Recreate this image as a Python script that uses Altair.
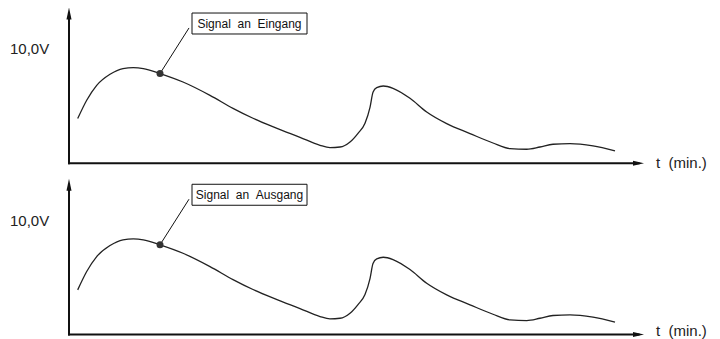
import altair as alt
import pandas as pd

# Signal curve (time in minutes, voltage in volts)
t_min = [0.87, 1.77, 2.77, 4.1, 5.4, 6.43, 7.43, 9.1, 11.4, 14.1, 16.4, 18.4,
         20.8, 23.1, 25.1, 26.1, 27.1, 28.1, 28.9, 29.6, 30.1, 30.4, 30.77,
         31.43, 32.4, 34.1, 35.77, 37.77, 40.1, 42.4, 44.1, 45.77, 47.1, 48.4,
         50.1, 52.4, 54.6]
volts = [3.92, 5.53, 6.84, 7.81, 8.31, 8.39, 8.31, 7.87, 7.13, 5.96, 4.82, 3.95,
         3.07, 2.28, 1.58, 1.38, 1.43, 1.87, 2.63, 3.51, 4.91, 6.23, 6.64,
         6.78, 6.58, 5.70, 4.50, 3.48, 2.61, 1.78, 1.29, 1.23, 1.43, 1.67,
         1.73, 1.52, 1.08]
marker_index = 7

NB = "\u00a0"
panel_labels = [f"Signal{NB}{NB}an{NB}{NB}Eingang", f"Signal{NB}{NB}an{NB}{NB}Ausgang"]
y_label = "10,0V"
y_label_value = 10.0
x_label = f"t{NB}{NB}(min.)"

# axis extents (data units)
y_axis_top = 13.14
x_axis_end = 56.95
# annotation box (data units)
box_t = (12.3, 23.8)
box_v = (11.34, 13.18)
leader_end = (12.0, 11.87)

x_domain = [-6.1, 64.3]
y_domains = [[-15.41, 13.62], [-0.39, 28.64]]
x_label_v = [0.0, 0.3]

FONT = "Liberation Sans"
INK = "#111111"

curve = pd.DataFrame({"t": t_min, "v": volts})
marker = curve.iloc[[marker_index]].reset_index(drop=True)
xsc = alt.Scale(domain=x_domain, nice=False, zero=False)


def panel(i):
    ysc = alt.Scale(domain=y_domains[i], nice=False, zero=False)

    def X(f):
        return alt.X(f, type="quantitative", scale=xsc, axis=None)

    def Y(f):
        return alt.Y(f, type="quantitative", scale=ysc, axis=None)

    axes = pd.DataFrame({"t0": [0.0, 0.0], "v0": [0.0, 0.0],
                         "t1": [0.0, x_axis_end], "v1": [y_axis_top, 0.0]})
    axis_lines = alt.Chart(axes).mark_rule(strokeWidth=2, color=INK, strokeCap="square").encode(
        x=X("t0"), y=Y("v0"), x2="t1", y2="v1")
    up_arrow = alt.Chart(pd.DataFrame({"t": [0.0], "v": [y_axis_top]})).mark_point(
        shape="M0,-1L0.42,1L-0.42,1Z", size=144, filled=True, color=INK, opacity=1
    ).encode(x=X("t"), y=Y("v"))
    right_arrow = alt.Chart(pd.DataFrame({"t": [x_axis_end], "v": [0.0]})).mark_point(
        shape="M1,0L-1,-0.45L-1,0.45Z", size=121, filled=True, color=INK, opacity=1
    ).encode(x=X("t"), y=Y("v"))
    line = alt.Chart(curve).mark_line(interpolate="monotone", color="#222222", strokeWidth=1.3).encode(
        x=X("t"), y=Y("v"))
    leader_df = marker.assign(t1=leader_end[0], v1=leader_end[1])
    leader = alt.Chart(leader_df).mark_rule(color=INK, strokeWidth=1).encode(
        x=X("t"), y=Y("v"), x2="t1", y2="v1")
    dot = alt.Chart(marker).mark_circle(size=49, color="#333333", opacity=1).encode(
        x=X("t"), y=Y("v"))
    box_df = pd.DataFrame({"t0": [box_t[0]], "t1": [box_t[1]], "v0": [box_v[0]], "v1": [box_v[1]],
                           "tc": [(box_t[0] + box_t[1]) / 2], "vc": [(box_v[0] + box_v[1]) / 2],
                           "label": [panel_labels[i]]})
    box = alt.Chart(box_df).mark_rect(fill="white", stroke=INK, strokeWidth=1).encode(
        x=X("t0"), x2="t1", y=Y("v0"), y2="v1")
    box_text = alt.Chart(box_df).mark_text(font=FONT, fontSize=12, color=INK, align="center",
                                           baseline="middle").encode(
        x=X("tc"), y=Y("vc"), text="label")
    ylab = alt.Chart(pd.DataFrame({"t": [-5.9], "v": [y_label_value], "s": [y_label]})).mark_text(
        font=FONT, fontSize=15, color="#222222", align="left", baseline="middle").encode(
        x=X("t"), y=Y("v"), text="s")
    xlab = alt.Chart(pd.DataFrame({"t": [58.7], "v": [x_label_v[i]], "s": [x_label]})).mark_text(
        font=FONT, fontSize=15, color="#222222", align="left", baseline="middle").encode(
        x=X("t"), y=Y("v"), text="s")
    return alt.layer(axis_lines, up_arrow, right_arrow, line, leader, dot, box, box_text, ylab, xlab)


chart = alt.layer(panel(0), panel(1)).resolve_scale(y="independent").properties(
    width=704, height=331, padding=0, autosize=alt.AutoSizeParams(type="none"),
    background="white"
).configure_view(stroke=None)

chart.save("out.html", embed_options={"renderer": "svg", "actions": False})
